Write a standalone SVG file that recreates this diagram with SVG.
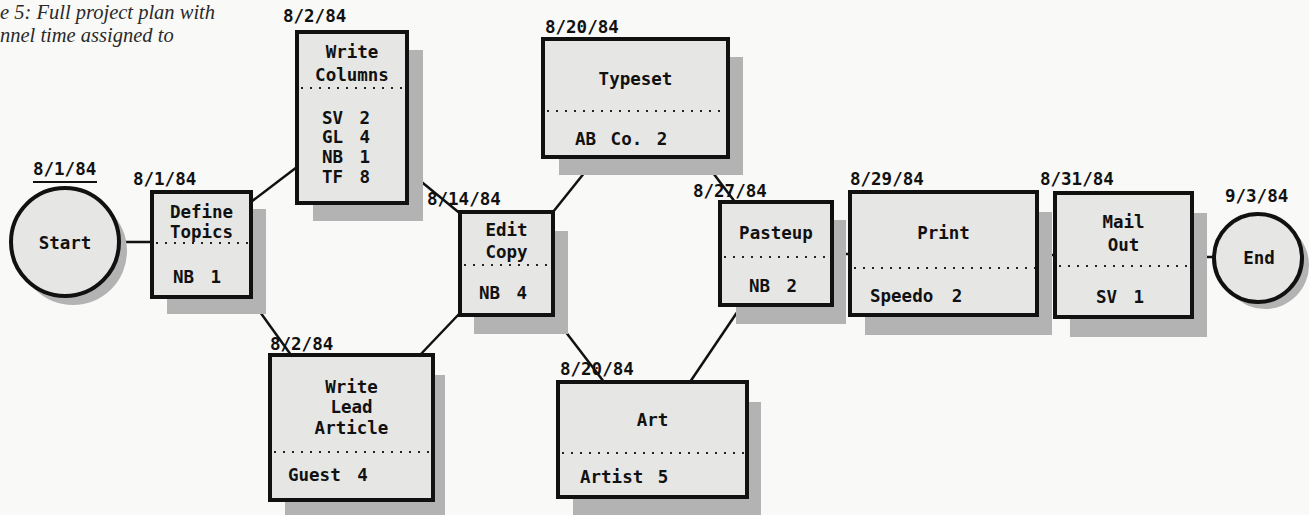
<svg xmlns="http://www.w3.org/2000/svg" width="1309" height="515" viewBox="0 0 1309 515">
<style>
.bg{fill:#f9f9f7}
.box{fill:#e6e6e4;stroke:#111;stroke-width:4}
.shadow{fill:#b3b3b3}
.dot{stroke:#222;stroke-width:2;stroke-dasharray:2 7}
.t{font-family:"DejaVu Sans Mono","Liberation Mono",monospace;font-weight:bold;font-size:17.5px;fill:#111}
.c{text-anchor:middle}
.ws{word-spacing:6px}
.cap{font-family:"Liberation Serif",serif;font-style:italic;font-size:20.5px;fill:#2a2a2a}
.conn line{stroke:#111;stroke-width:2.5}
</style>
<rect class="bg" x="0" y="0" width="1309" height="515"/>
<g id="caption">
<text class="cap" x="0" y="19">e 5: Full project plan with</text>
<text class="cap" x="0" y="42">nnel time assigned to</text>
</g>
<g id="connectors" class="conn">
<line x1="118" y1="242" x2="152" y2="242"/>
<line x1="251" y1="202" x2="297" y2="167"/>
<line x1="250" y1="298" x2="291" y2="355"/>
<line x1="407" y1="170" x2="462" y2="215"/>
<line x1="460" y1="313" x2="420" y2="355"/>
<line x1="553" y1="212" x2="597" y2="157"/>
<line x1="552" y1="314" x2="604" y2="382"/>
<line x1="701" y1="157" x2="735" y2="202"/>
<line x1="690" y1="382" x2="742" y2="305"/>
<line x1="832" y1="254" x2="850" y2="254"/>
<line x1="1037" y1="255" x2="1055" y2="255"/>
<line x1="1192" y1="257" x2="1214" y2="257"/>
</g>
<g id="start">
<circle class="shadow" cx="73" cy="251" r="54"/>
<circle class="box" cx="65" cy="242" r="54" stroke-width="3.5"/>
<text class="t c" x="65" y="249" font-size="16">Start</text>
<text class="t" x="33" y="175">8/1/84</text>
<line x1="33" y1="182" x2="97" y2="182" stroke="#111" stroke-width="2"/>
</g>
<g id="define-topics">
<rect class="shadow" x="167" y="209" width="99" height="105"/>
<rect class="box" x="152" y="192" width="99" height="105"/>
<line class="dot" x1="156" y1="243" x2="249" y2="243"/>
<text class="t c" x="201.5" y="218">Define</text>
<text class="t c" x="201.5" y="238">Topics</text>
<text class="t c ws" x="197" y="283">NB 1</text>
<text class="t" x="133" y="185">8/1/84</text>
</g>
<g id="write-columns">
<rect class="shadow" x="313" y="50" width="110" height="171"/>
<rect class="box" x="297" y="32" width="110" height="171"/>
<line class="dot" x1="301" y1="88" x2="405" y2="88"/>
<text class="t c" x="352" y="58">Write</text>
<text class="t c" x="352" y="81">Columns</text>
<text class="t ws" x="322" y="124">SV 2</text>
<text class="t ws" x="322" y="143">GL 4</text>
<text class="t ws" x="322" y="163">NB 1</text>
<text class="t ws" x="322" y="183">TF 8</text>
<text class="t" x="283" y="22">8/2/84</text>
</g>
<g id="write-lead-article">
<rect class="shadow" x="285" y="375" width="160" height="145"/>
<rect class="box" x="270" y="355" width="163" height="145"/>
<line class="dot" x1="274" y1="452" x2="431" y2="452"/>
<text class="t c" x="351.5" y="393">Write</text>
<text class="t c" x="351.5" y="413">Lead</text>
<text class="t c" x="351.5" y="434">Article</text>
<text class="t ws" x="288" y="481">Guest 4</text>
<text class="t" x="270" y="350">8/2/84</text>
</g>
<g id="edit-copy">
<rect class="shadow" x="474" y="231" width="94" height="103"/>
<rect class="box" x="460" y="212" width="93" height="103"/>
<line class="dot" x1="464" y1="265" x2="551" y2="265"/>
<text class="t c" x="506.5" y="236">Edit</text>
<text class="t c" x="506.5" y="258">Copy</text>
<text class="t c ws" x="503" y="299">NB 4</text>
<text class="t" x="427" y="205">8/14/84</text>
</g>
<g id="typeset">
<rect class="shadow" x="559" y="57" width="184" height="118"/>
<rect class="box" x="543" y="39" width="185" height="118"/>
<line class="dot" x1="547" y1="111" x2="726" y2="111"/>
<text class="t c" x="635.5" y="85">Typeset</text>
<text class="t" x="575" y="145" style="word-spacing:4px">AB Co. 2</text>
<text class="t" x="545" y="33">8/20/84</text>
</g>
<g id="art">
<rect class="shadow" x="573" y="402" width="188" height="118"/>
<rect class="box" x="558" y="382" width="189" height="115"/>
<line class="dot" x1="562" y1="453" x2="745" y2="453"/>
<text class="t c" x="652.5" y="426">Art</text>
<text class="t" x="580" y="483" style="word-spacing:4px">Artist 5</text>
<text class="t" x="560" y="375">8/20/84</text>
</g>
<g id="pasteup">
<rect class="shadow" x="736" y="220" width="110" height="104"/>
<rect class="box" x="720" y="202" width="112" height="103"/>
<line class="dot" x1="724" y1="257" x2="830" y2="257"/>
<text class="t c" x="776" y="239">Pasteup</text>
<text class="t c ws" x="773" y="292">NB 2</text>
<text class="t" x="693" y="197">8/27/84</text>
</g>
<g id="print">
<rect class="shadow" x="865" y="212" width="187" height="123"/>
<rect class="box" x="850" y="192" width="187" height="123"/>
<line class="dot" x1="854" y1="268" x2="1035" y2="268"/>
<text class="t c" x="943.5" y="239">Print</text>
<text class="t" x="870" y="302" style="word-spacing:8px">Speedo 2</text>
<text class="t" x="850" y="185">8/29/84</text>
</g>
<g id="mail-out">
<rect class="shadow" x="1070" y="213" width="137" height="124"/>
<rect class="box" x="1055" y="193" width="137" height="124"/>
<line class="dot" x1="1059" y1="266" x2="1190" y2="266"/>
<text class="t c" x="1123.5" y="228">Mail</text>
<text class="t c" x="1123.5" y="251">Out</text>
<text class="t c ws" x="1120" y="303">SV 1</text>
<text class="t" x="1040" y="185">8/31/84</text>
</g>
<g id="end">
<circle class="shadow" cx="1265" cy="265" r="44"/>
<circle class="box" cx="1258" cy="258" r="44" stroke-width="3.5"/>
<text class="t c" x="1259" y="264" font-size="16">End</text>
<text class="t" x="1225" y="202">9/3/84</text>
</g>
</svg>
